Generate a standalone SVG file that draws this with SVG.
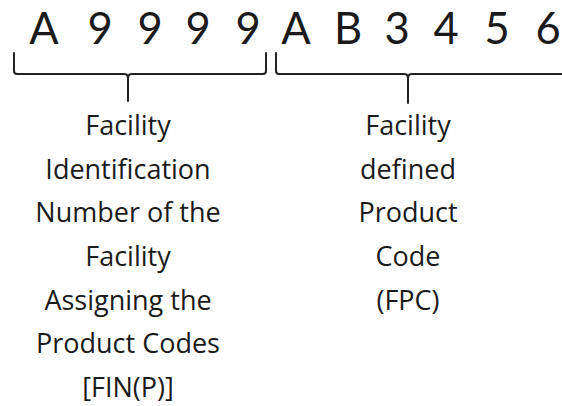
<svg xmlns="http://www.w3.org/2000/svg" width="562" height="406" viewBox="0 0 562 406">
<style>
.code{font-family:Lato,"Open Sans",sans-serif;font-size:43.5px;fill:#1a1a1a;text-anchor:middle}
.lbl{font-family:"Open Sans","Noto Sans",sans-serif;font-size:27px;fill:#1a1a1a;text-anchor:middle}
.br{fill:none;stroke:#222;stroke-width:2;stroke-linecap:round;stroke-linejoin:round}
</style>
<rect width="562" height="406" fill="#fff"/>
<g id="code">
<text class="code" x="44" y="43.5">A</text>
<text class="code" x="100" y="43.5">9</text>
<text class="code" x="150" y="43.5">9</text>
<text class="code" x="198" y="43.5">9</text>
<text class="code" x="248" y="43.5">9</text>
<text class="code" x="296" y="43.5">A</text>
<text class="code" x="348" y="43.5">B</text>
<text class="code" x="397" y="43.5">3</text>
<text class="code" x="446" y="43.5">4</text>
<text class="code" x="497" y="43.5">5</text>
<text class="code" x="548" y="43.5">6</text>
</g>
<g id="connectors">
<path class="br" d="M14,53 L14,71 Q14,74 17,74 L124,74 Q128,74 128,78 M128,78 Q128,74 132,74 L263,74 Q266,74 266,71 L266,53 M128,78 L128,101"/>
<path class="br" d="M276,53 L276,71 Q276,74 279,74 L404,74 Q408,74 408,78 Q408,74 412,74 L563,74 M408,78 L408,103"/>
</g>
<g id="fin">
<text class="lbl" x="128" y="135">Facility</text>
<text class="lbl" x="128" y="179">Identification</text>
<text class="lbl" x="128" y="222">Number of the</text>
<text class="lbl" x="128" y="266">Facility</text>
<text class="lbl" x="128" y="310">Assigning the</text>
<text class="lbl" x="128" y="353">Product Codes</text>
<text class="lbl" x="128" y="397">[FIN(P)]</text>
</g>
<g id="fpc">
<text class="lbl" x="408" y="135">Facility</text>
<text class="lbl" x="408" y="179">defined</text>
<text class="lbl" x="408" y="222">Product</text>
<text class="lbl" x="408" y="266">Code</text>
<text class="lbl" x="408" y="310">(FPC)</text>
</g>
</svg>
